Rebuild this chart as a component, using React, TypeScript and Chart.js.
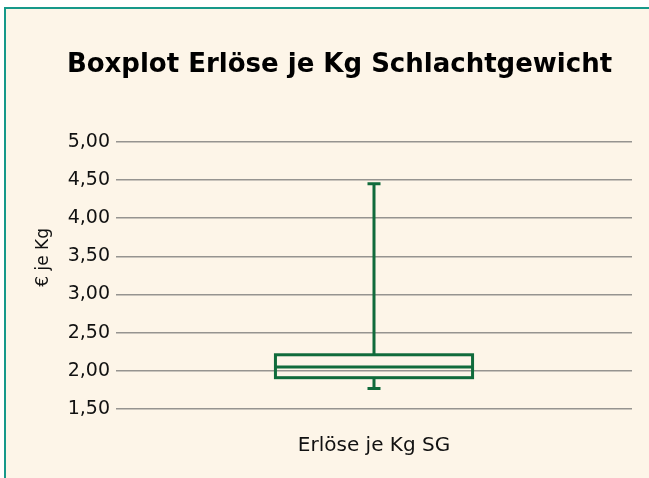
import React, { useEffect, useRef } from 'react';
import { Chart, registerables } from 'chart.js';

Chart.register(...registerables);

// ---- data ----
const categories = ['Erlöse je Kg SG'];
const minValues = [1.77];
const q1Values = [1.91];
const medianValues = [2.05];
const q3Values = [2.21];
const maxValues = [4.45];
const yTickMin = 1.5;
const yTickMax = 5.0;
const yTickStep = 0.5;
const chartTitle = 'Boxplot Erlöse je Kg Schlachtgewicht';
const yAxisTitle = '€ je Kg';

// ---- styles ----
const GREEN = '#106b3b';
const CREAM = '#fdf5e8';
const TEAL = '#16998a';
const GRID = '#969490';
const FONT = "'DejaVu Sans', 'Liberation Sans', sans-serif";

const boxPlugin = {
  id: 'boxWhiskers',
  afterDatasetsDraw(chart: any) {
    const meta = chart.getDatasetMeta(0);
    const yScale = chart.scales.y;
    const ctx = chart.ctx;
    ctx.save();
    ctx.strokeStyle = GREEN;
    ctx.lineWidth = 3;
    ctx.lineCap = 'butt';
    meta.data.forEach((bar: any, i: number) => {
      const { x, width } = bar.getProps(['x', 'width'], true);
      const left = x - width / 2;
      const right = x + width / 2;
      const yMed = yScale.getPixelForValue(medianValues[i]);
      const yQ3 = yScale.getPixelForValue(q3Values[i]);
      const yQ1 = yScale.getPixelForValue(q1Values[i]);
      const yMax = yScale.getPixelForValue(maxValues[i]);
      const yMin = yScale.getPixelForValue(minValues[i]);
      const cap = 6.5;
      // box
      ctx.strokeRect(left, yQ3, right - left, yQ1 - yQ3);
      ctx.beginPath();
      // median
      ctx.moveTo(left, yMed);
      ctx.lineTo(right, yMed);
      // upper whisker
      ctx.moveTo(x, yQ3);
      ctx.lineTo(x, yMax);
      ctx.moveTo(x - cap, yMax);
      ctx.lineTo(x + cap, yMax);
      // lower whisker
      ctx.moveTo(x, yQ1);
      ctx.lineTo(x, yMin);
      ctx.moveTo(x - cap, yMin);
      ctx.lineTo(x + cap, yMin);
      ctx.stroke();
    });
    ctx.restore();
  },
};

const yTitlePlugin = {
  id: 'yTitle',
  afterDraw(chart: any) {
    const { ctx, chartArea } = chart;
    ctx.save();
    ctx.fillStyle = '#111';
    ctx.font = `17px ${FONT}`;
    ctx.textAlign = 'center';
    ctx.textBaseline = 'middle';
    const cx = chartArea.left - 72;
    const cy = (chartArea.top + chartArea.bottom) / 2 - 18;
    ctx.translate(cx, cy);
    ctx.rotate(-Math.PI / 2);
    ctx.fillText(yAxisTitle, 0, 0);
    ctx.restore();
  },
};

export default function App() {
  const ref = useRef<HTMLCanvasElement | null>(null);

  useEffect(() => {
    if (!ref.current) return;
    const chart = new Chart(ref.current, {
      type: 'bar',
      data: {
        labels: categories,
        datasets: [
          {
            label: 'Box',
            data: q1Values.map((q1, i) => [q1, q3Values[i]]) as any,
            backgroundColor: 'rgba(0,0,0,0)',
            borderColor: 'rgba(0,0,0,0)',
            borderWidth: 0,
            barPercentage: 0.382,
            categoryPercentage: 1,
          },
        ],
      },
      options: {
        animation: false,
        responsive: false,
        maintainAspectRatio: false,
        devicePixelRatio: 1,
        layout: { padding: { left: 41, right: 17, top: 0, bottom: 20 } },
        plugins: {
          legend: { display: false },
          tooltip: { enabled: false },
          title: {
            display: true,
            text: chartTitle,
            color: '#000',
            font: { family: FONT, size: 26, weight: 'bold' },
            padding: { top: 41, bottom: 60.5 },
          },
        },
        scales: {
          x: {
            grid: { display: false, drawTicks: false },
            border: { display: false },
            ticks: {
              color: '#111',
              font: { family: FONT, size: 20 },
              padding: 25,
            },
            afterFit: (scale: any) => {
              scale.height = 49;
            },
          },
          y: {
            min: yTickMin,
            max: yTickMax,
            grid: { color: GRID, lineWidth: 1.5, drawTicks: false },
            border: { display: false },
            ticks: {
              stepSize: yTickStep,
              color: '#111',
              font: { family: FONT, size: 19 },
              padding: 6,
              callback: (v: any) => Number(v).toFixed(2).replace('.', ','),
            },
            afterFit: (scale: any) => {
              scale.width = 69;
            },
          },
        },
      },
      plugins: [boxPlugin, yTitlePlugin],
    });
    return () => chart.destroy();
  }, []);

  return (
    <div
      style={{
        position: 'fixed',
        left: 0,
        top: 0,
        width: 649,
        height: 478,
        background: '#fff',
        overflow: 'hidden',
      }}
    >
      <div
        style={{
          position: 'absolute',
          left: 4,
          top: 7,
          width: 645,
          height: 471,
          boxSizing: 'border-box',
          borderLeft: `2px solid ${TEAL}`,
          borderTop: `2px solid ${TEAL}`,
          background: CREAM,
        }}
      >
        <canvas
          ref={ref}
          width={643}
          height={469}
          style={{ display: 'block', width: 643, height: 469 }}
        />
      </div>
    </div>
  );
}
